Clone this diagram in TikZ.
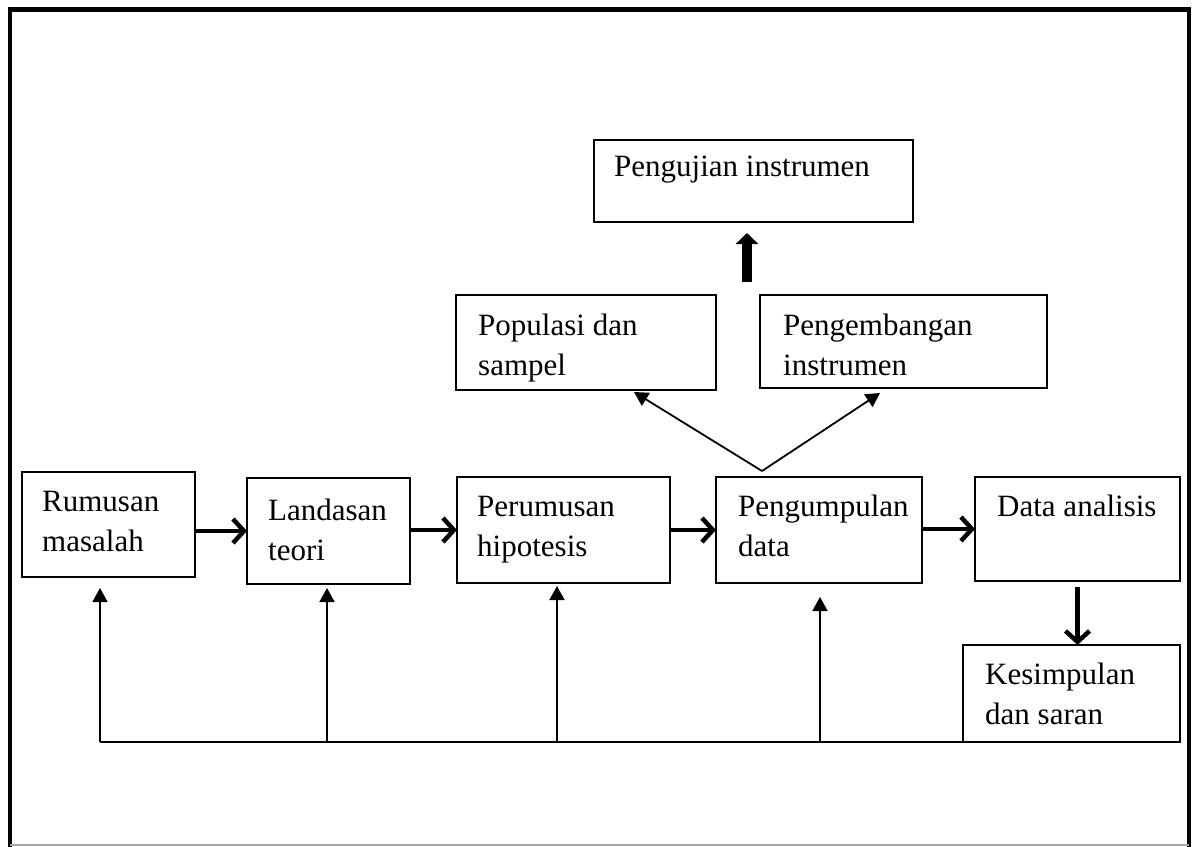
\documentclass[tikz,border=0pt]{standalone}
\usepackage{fontspec}
\setmainfont{Liberation Serif}
\usetikzlibrary{arrows.meta}
\tikzset{
  box/.style={draw, line width=1.8pt, rectangle, inner sep=0pt, outer sep=0pt, anchor=north west},
  txt/.style={anchor=base west, align=left, inner sep=0pt, font=\fontsize{31}{40}\selectfont},
  thinarrow/.style={line width=1.8pt, -{Triangle[length=14pt,width=15pt]}},
  thickarrow/.style={line width=4.5pt, -{Straight Barb[length=11pt,width=24pt]}},
  bigarrow/.style={line width=10pt, -{Triangle[length=11pt,width=22pt]}},
  frameline/.style={line width=4.5pt}
}
\begin{document}
\begin{tikzpicture}[x=1pt,y=-1pt]
\useasboundingbox (0,0) rectangle (1194,846);
% outer frame
\draw[frameline] (10,850) -- (10,9.5) -- (1189,9.5) -- (1189,850);
\draw[line width=1.5pt, black!35] (10,845) -- (1189,845);

% boxes
\node[box, minimum width=173pt, minimum height=105pt] (rm) at (22,472) {};
\node[box, minimum width=163pt, minimum height=106pt] (lt) at (247,478) {};
\node[box, minimum width=213pt, minimum height=106pt] (ph) at (457,477) {};
\node[box, minimum width=206pt, minimum height=106pt] (pd) at (716,477) {};
\node[box, minimum width=205pt, minimum height=104pt] (da) at (975,477) {};
\node[box, minimum width=217pt, minimum height=97pt] (ks) at (963,645) {};
\node[box, minimum width=260pt, minimum height=95pt] (ps) at (456,295) {};
\node[box, minimum width=287pt, minimum height=93pt] (pi) at (760,295) {};
\node[box, minimum width=319pt, minimum height=82pt] (pj) at (594,140) {};

% texts (anchored at the baseline of their last line)
\node[txt] (rmt) at (42,551) {Rumusan\\masalah};
\node[txt] (ltt) at (268,560) {Landasan\\teori};
\node[txt] (pht) at (477,556) {Perumusan\\hipotesis};
\node[txt] (pdt) at (738,556) {Pengumpulan\\data};
\node[txt] (dat) at (997,516) {Data analisis};
\node[txt] (kst) at (985,724) {Kesimpulan\\dan saran};
\node[txt] (pst) at (478,375) {Populasi dan\\sampel};
\node[txt] (pit) at (783,375) {Pengembangan\\instrumen};
\node[txt] (pjt) at (614,176) {Pengujian instrumen};

% main flow arrows
\draw[thickarrow] (rm.east |- lt.west) -- (lt.west);
\draw[thickarrow] (lt.east |- ph.west) -- (ph.west);
\draw[thickarrow] (ph.east) -- (pd.west);
\draw[thickarrow] (pd.east |- da.west) -- (da.west);
\draw[thickarrow, shorten <=6pt] (da.south) -- (da.south |- ks.north);

% up to Pengujian instrumen
\coordinate (upb) at (747,282);
\coordinate (upt) at (747,233);
\draw[bigarrow] (upb) -- (upt);

% branches from Pengumpulan data
\coordinate (apex) at (762,471);
\coordinate (psin) at (634,392);
\coordinate (piin) at (880,393);
\draw[thinarrow] (apex) -- (psin);
\draw[thinarrow] (apex) -- (piin);

% feedback line
\coordinate (fb1) at (100,742);
\coordinate (fb2) at (327,742);
\coordinate (fb3) at (557,742);
\coordinate (fb4) at (820,742);
\draw[line width=1.8pt] (ks.south west) -- (fb1);
\draw[thinarrow, shorten >=11pt] (fb1) -- (fb1 |- rm.south);
\draw[thinarrow, shorten >=4pt] (fb2) -- (fb2 |- lt.south);
\draw[thinarrow, shorten >=3pt] (fb3) -- (fb3 |- ph.south);
\draw[thinarrow, shorten >=14pt] (fb4) -- (fb4 |- pd.south);
\end{tikzpicture}
\end{document}
